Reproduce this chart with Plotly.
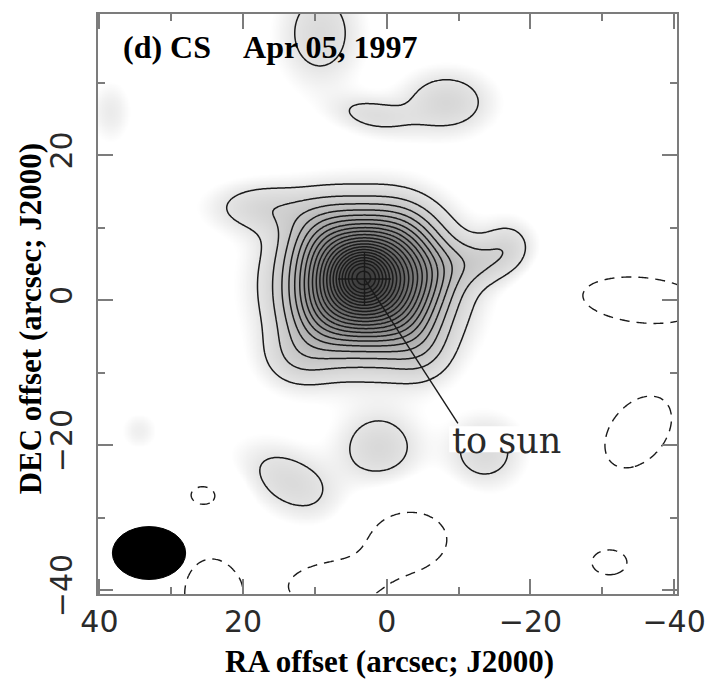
import numpy as np
import plotly.graph_objects as go

# Emission components (RA offset, DEC offset in arcsec; amplitude in contour-step units;
# Gaussian widths along major/minor axes in arcsec; position angle in degrees)
comp_ra   = [3.3, 3.3, 2.8, 8.8, -2.2, 8.8, -2.2, -5.5,
             -12.5, -17.0, 17.5, 12.5, -5.0,
             9.3, -8.3, 2.0, 1.1, 13.4, -13.6, 38.5, 34.5,
             -35.5, -35.0, -31.0, -3.0, 8.0, 24.5, 25.5]
comp_dec  = [3.2, 3.2, 2.0, 8.7, 8.7, -2.3, -2.3, 3.8,
             5.2, 7.5, 12.8, -8.0, -7.5,
             36.8, 27.3, 25.5, -20.4, -25.1, -21.0, 26.0, -18.0,
             0.0, -18.2, -36.2, -33.0, -39.5, -40.5, -26.8]
comp_amp  = [4.0, 10.5, 7.5, 1.8, 1.8, 1.8, 1.8, 1.5,
             1.4, 1.3, 1.5, 1.3, 1.0,
             1.5, 1.7, 1.25, 1.6, 1.5, 1.5, 0.8, 0.7,
             -1.6, -1.6, -1.2, -1.6, -1.5, -1.5, -1.12]
comp_smaj = [2.2, 4.8, 7.3, 3.6, 3.6, 3.6, 3.6, 3.2,
             3.5, 2.5, 5.0, 3.5, 3.0,
             3.9, 4.3, 4.0, 4.0, 5.3, 3.6, 2.0, 1.8,
             8.5, 5.8, 4.0, 5.5, 6.0, 4.0, 3.2]
comp_smin = [2.2, 4.6, 6.3, 3.6, 3.6, 3.6, 3.6, 3.0,
             2.3, 2.5, 2.4, 3.0, 3.0,
             5.0, 3.0, 1.8, 3.5, 3.1, 3.4, 3.0, 1.8,
             3.2, 3.9, 2.8, 4.0, 3.2, 5.2, 2.2]
comp_pa   = [0, 0, 0, 0, 0, 0, 0, 0,
             0, 0, 0, 0, 0,
             0, 0, 10, 0, 29, 0, 0, 0,
             5, -50, 0, 0, 0, 0, 0]

contour_step = 1.0
pos_levels = (1, 24)          # first and last positive contour (in steps)
neg_level = -1                # dashed negative contour

nucleus = (3.1, 2.9)          # crosshair position
cross_half = 3.7              # crosshair half length (arcsec)
sun_end = (-9.9, -17.0)       # end of the "to sun" line
sun_label = "to sun"
sun_label_pos = (-8.8, -19.4)

beam_center = (33.1, -34.9)
beam_major = 5.1
beam_minor = 3.65

title_text = "(d) CS\u00a0\u00a0\u00a0\u00a0Apr 05, 1997"
x_title = "RA offset (arcsec; J2000)"
y_title = "DEC offset (arcsec; J2000)"
x_ticks = [40, 20, 0, -20, -40]
x_ticktext = ["40", "20", "0", "\u221220", "\u221240"]
y_ticks = [20, 0, -20, -40]
y_ticktext = ["20", "0", "\u221220", "\u221240"]
minor_x = [30, 10, -10, -30]
minor_y = [30, 10, -10, -30]

# ---------------- build the intensity map ----------------
ra = np.arange(-43.0, 43.001, 0.2)
dec = np.arange(-43.0, 43.001, 0.2)
RA, DEC = np.meshgrid(ra, dec)
Z = np.zeros_like(RA)
for x0, y0, a, sa, sb, pa in zip(comp_ra, comp_dec, comp_amp, comp_smaj, comp_smin, comp_pa):
    th = np.radians(pa)
    du, dv = RA - x0, DEC - y0
    u = du * np.cos(th) + dv * np.sin(th)
    v = -du * np.sin(th) + dv * np.cos(th)
    Z += a * np.exp(-0.5 * (u ** 2 / sa ** 2 + v ** 2 / sb ** 2))

zmax = 25.0
grey = [[0.0, "#ffffff"], [0.3 / zmax, "#ffffff"], [0.6 / zmax, "#f2f2f2"],
        [1 / zmax, "#e4e4e4"], [2 / zmax, "#d2d2d2"], [4 / zmax, "#b8b8b8"],
        [8 / zmax, "#8c8c8c"], [14 / zmax, "#606060"], [20 / zmax, "#464646"],
        [1.0, "#323232"]]

line_col = "#1a1a1a"
frame_col = "#7c7c7c"

fig = go.Figure()
fig.add_trace(go.Heatmap(x=ra, y=dec, z=Z, zmin=0, zmax=zmax, colorscale=grey,
                         showscale=False, zsmooth="best", hoverinfo="skip"))
fig.add_trace(go.Contour(x=ra, y=dec, z=Z, showscale=False, hoverinfo="skip",
                         contours=dict(start=pos_levels[0] * contour_step,
                                       end=pos_levels[1] * contour_step,
                                       size=contour_step, coloring="lines"),
                         colorscale=[[0, line_col], [1, line_col]],
                         line=dict(width=1.5, smoothing=1.0)))
fig.add_trace(go.Contour(x=ra, y=dec, z=Z, showscale=False, hoverinfo="skip",
                         contours=dict(start=neg_level * contour_step,
                                       end=neg_level * contour_step,
                                       size=contour_step, coloring="lines"),
                         colorscale=[[0, line_col], [1, line_col]],
                         line=dict(width=1.4, smoothing=1.0, dash="10px,7px")))

# crosshair and "to sun" line
nx, ny = nucleus
fig.add_trace(go.Scatter(x=[nx + cross_half, nx - cross_half], y=[ny, ny], mode="lines",
                         line=dict(color=line_col, width=1.4), hoverinfo="skip", showlegend=False))
fig.add_trace(go.Scatter(x=[nx, nx], y=[ny + cross_half, ny - cross_half], mode="lines",
                         line=dict(color=line_col, width=1.4), hoverinfo="skip", showlegend=False))
fig.add_trace(go.Scatter(x=[nx, sun_end[0]], y=[ny, sun_end[1]], mode="lines",
                         line=dict(color=line_col, width=1.4), hoverinfo="skip", showlegend=False))

shapes = [
    # beam
    dict(type="circle", xref="x", yref="y",
         x0=beam_center[0] - beam_major, x1=beam_center[0] + beam_major,
         y0=beam_center[1] - beam_minor, y1=beam_center[1] + beam_minor,
         fillcolor="black", line=dict(color="black", width=1), layer="above"),
    # white patch behind the label
    dict(type="rect", xref="x", yref="y",
         x0=sun_label_pos[0] + 0.1, x1=sun_label_pos[0] - 15.6,
         y0=sun_label_pos[1] - 1.6, y1=sun_label_pos[1] + 2.0,
         fillcolor="white", line=dict(width=0), layer="above"),
]

annotations = [
    dict(text="<b>" + title_text + "</b>", xref="paper", yref="paper", x=0.04, y=0.943,
         xanchor="left", yanchor="middle", showarrow=False,
         font=dict(family="Liberation Serif", size=32, color="black")),
    dict(text=sun_label, xref="x", yref="y", x=sun_label_pos[0], y=sun_label_pos[1],
         xanchor="left", yanchor="middle", showarrow=False,
         font=dict(family="DejaVu Serif", size=35, color="#2a2a2a")),
    dict(text="<b>" + x_title + "</b>", xref="paper", yref="paper", x=0.504, y=-0.117,
         xanchor="center", yanchor="middle", showarrow=False,
         font=dict(family="Liberation Serif", size=31, color="black")),
    dict(text="<b>" + y_title + "</b>", xref="paper", yref="paper", x=-0.115, y=0.476,
         xanchor="center", yanchor="middle", showarrow=False, textangle=-90,
         font=dict(family="Liberation Serif", size=31, color="black")),
]

axis_common = dict(showgrid=False, zeroline=False, showline=True, linecolor=frame_col,
                   linewidth=2, mirror="ticks", ticks="inside", ticklen=15, tickwidth=1.5,
                   tickcolor=frame_col,
                   tickfont=dict(family="DejaVu Sans", size=30, color="#2a2a2a"))

fig.update_layout(
    width=718, height=686,
    margin=dict(l=98, r=31, t=14, b=92),
    paper_bgcolor="white", plot_bgcolor="white",
    showlegend=False,
    shapes=shapes, annotations=annotations,
    xaxis=dict(range=[40.2, -40.4], tickmode="array", tickvals=x_ticks, ticktext=x_ticktext,
               minor=dict(tickmode="array", tickvals=minor_x, ticks="inside", ticklen=7,
                          tickcolor=frame_col, tickwidth=1.5),
               **axis_common),
    yaxis=dict(range=[-40.55, 39.45], tickmode="array", tickvals=y_ticks, ticktext=y_ticktext,
               tickangle=-90, ticklabelstandoff=12,
               minor=dict(tickmode="array", tickvals=minor_y, ticks="inside", ticklen=7,
                          tickcolor=frame_col, tickwidth=1.5),
               **axis_common),
)

fig.write_html("out.html")
